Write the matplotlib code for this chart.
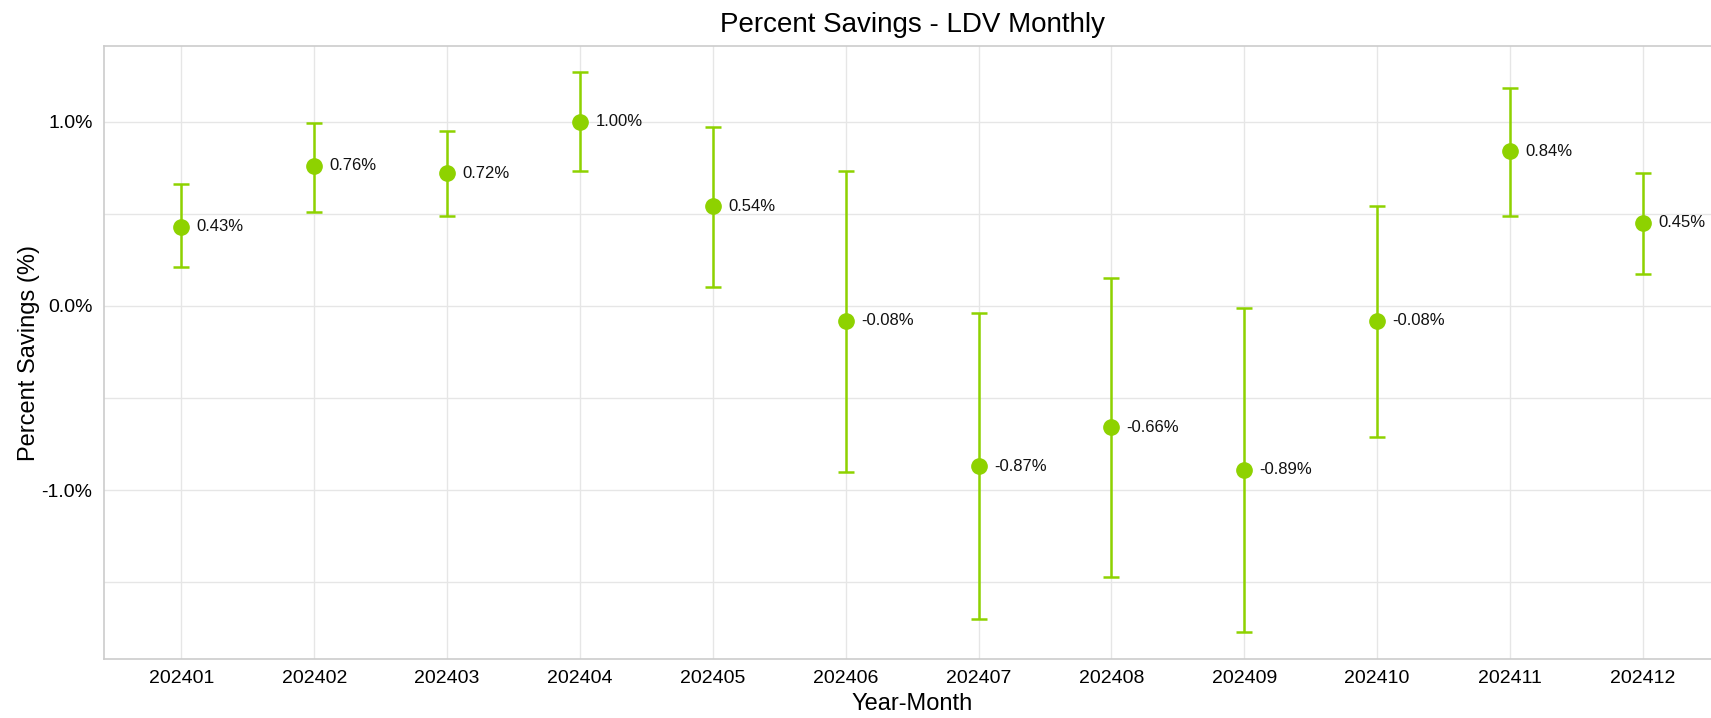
import numpy as np
import matplotlib
matplotlib.use("Agg")
import matplotlib.pyplot as plt
from matplotlib.ticker import FixedLocator, FuncFormatter

# ===== Data =====
months = ["202401", "202402", "202403", "202404", "202405", "202406",
          "202407", "202408", "202409", "202410", "202411", "202412"]
savings = [0.43, 0.76, 0.72, 1.00, 0.54, -0.08, -0.87, -0.66, -0.89, -0.08, 0.84, 0.45]
ci_low  = [0.21, 0.51, 0.49, 0.73, 0.10, -0.90, -1.70, -1.47, -1.77, -0.71, 0.49, 0.17]
ci_high = [0.66, 0.99, 0.95, 1.27, 0.97, 0.73, -0.04, 0.15, -0.01, 0.54, 1.18, 0.72]

green = "#8ED200"
plt.rcParams["font.family"] = ["Liberation Sans", "DejaVu Sans"]

fig = plt.figure(figsize=(17.11, 7.18), dpi=100)
ax = fig.add_axes([0.0606, 0.082, 0.945, 0.854])

x = np.arange(len(months))
y = np.array(savings)
yerr = [y - np.array(ci_low), np.array(ci_high) - y]

ax.errorbar(x, y, yerr=yerr, fmt="o", color=green, ecolor=green,
            markersize=11, elinewidth=1.8, capsize=6, capthick=1.8, zorder=3)

for xi, yi in zip(x, savings):
    ax.annotate(f"{yi:.2f}%", (xi, yi), xytext=(11, 0), textcoords="offset points",
                va="center", ha="left", fontsize=12, color="#111111")

ax.set_xlim(-0.585, len(months) - 1 + 0.585)
ax.set_ylim(-1.917, 1.41)
ax.set_xticks(x)
ax.set_xticklabels(months)
ax.yaxis.set_major_locator(FixedLocator([-1.0, 0.0, 1.0]))
ax.yaxis.set_minor_locator(FixedLocator([-1.5, -0.5, 0.5]))
ax.yaxis.set_major_formatter(FuncFormatter(lambda v, p: f"{v:.1f}%"))

ax.grid(True, which="both", color="#e6e6e6", linewidth=1.0, zorder=0)
ax.set_axisbelow(True)
ax.tick_params(axis="both", which="both", length=0, labelsize=14, pad=8)
for s in ax.spines.values():
    s.set_color("#cccccc")
    s.set_linewidth(1.2)

ax.set_title("Percent Savings - LDV Monthly", fontsize=20, pad=10)
ax.set_xlabel("Year-Month", fontsize=17, labelpad=4)
ax.set_ylabel("Percent Savings (%)", fontsize=17, labelpad=1)

fig.savefig("out.png", dpi=100)
